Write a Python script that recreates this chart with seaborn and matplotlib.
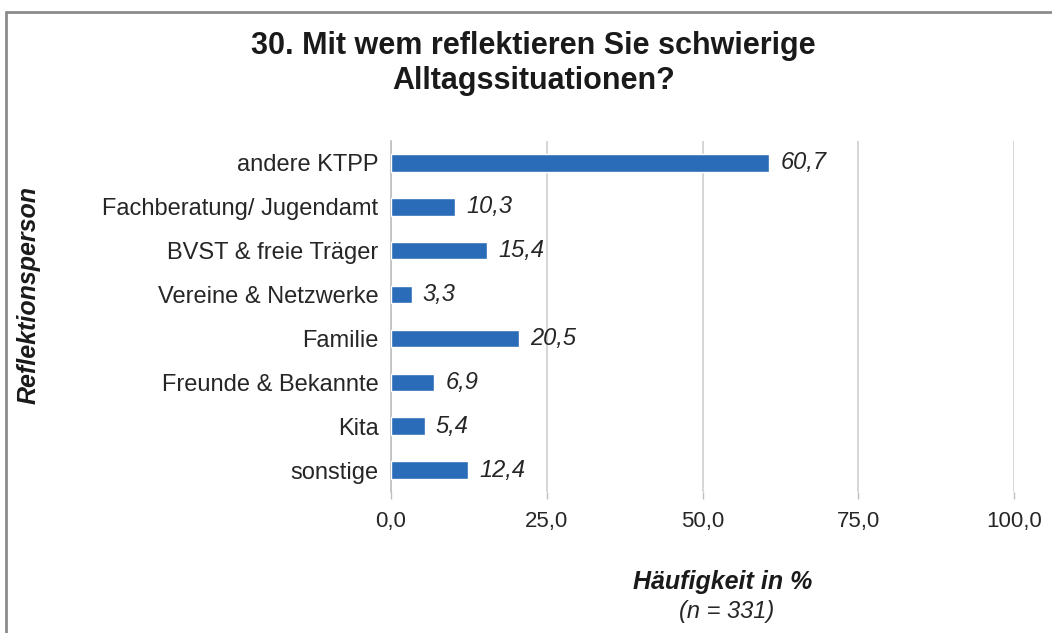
import matplotlib
matplotlib.use("Agg")
import matplotlib.pyplot as plt
import seaborn as sns
import pandas as pd
from matplotlib.lines import Line2D

categories = [
    "andere KTPP",
    "Fachberatung/ Jugendamt",
    "BVST & freie Träger",
    "Vereine & Netzwerke",
    "Familie",
    "Freunde & Bekannte",
    "Kita",
    "sonstige",
]
values = [60.7, 10.3, 15.4, 3.3, 20.5, 6.9, 5.4, 12.4]
x_ticks = [0, 25, 50, 75, 100]

df = pd.DataFrame({"Reflektionsperson": categories, "Anteil": values})

sns.set_theme(style="white")
plt.rcParams["font.family"] = ["Liberation Sans", "DejaVu Sans"]

fig = plt.figure(figsize=(10.52, 6.33), dpi=100)
ax = fig.add_axes([0.3717, 0.2227, 0.5922, 0.5546])

bar_color = "#2B6CB8"
sns.barplot(data=df, x="Anteil", y="Reflektionsperson", order=categories,
            color=bar_color, width=0.4, saturation=1, ax=ax, zorder=3)

ax.set_xlim(0, 100)
ax.set_ylim(len(categories) - 0.5, -0.5)
ax.set_xticks(x_ticks)
ax.set_xticklabels([f"{t:.1f}".replace(".", ",") for t in x_ticks],
                   fontsize=16, color="#262626")
ax.tick_params(axis="x", length=5, width=1, color="#bfbfbf", pad=9, direction="out",
               bottom=True)
ax.tick_params(axis="y", length=0, pad=9, labelsize=17, labelcolor="#262626")
ax.grid(axis="x", color="#d0d0d0", linewidth=1.2, zorder=0)
ax.grid(axis="y", visible=False)
for side in ["top", "right", "bottom"]:
    ax.spines[side].set_visible(False)
ax.spines["left"].set_color("#bfbfbf")
ax.spines["left"].set_linewidth(1.2)
ax.set_xlabel("")
ax.set_ylabel("")

for i, v in enumerate(values):
    ax.text(v + 1.8, i, f"{v:.1f}".replace(".", ","), va="center", ha="left",
            fontsize=17, style="italic", color="#262626")

fig.text(0.507, 0.900, "30. Mit wem reflektieren Sie schwierige\nAlltagssituationen?",
         ha="center", va="center", fontsize=22, fontweight="bold",
         color="#1a1a1a", linespacing=1.2)

fig.text(0.027, 0.534, "Reflektionsperson", rotation=90, ha="center", va="center",
         fontsize=18, fontweight="bold", style="italic", color="#1a1a1a")

fig.text(0.687, 0.080, "Häufigkeit in %", ha="center", va="center",
         fontsize=18, fontweight="bold", style="italic", color="#1a1a1a")
fig.text(0.691, 0.034, "(n = 331)", ha="center", va="center",
         fontsize=17, style="italic", color="#262626")

# outer frame (left and top edges)
fig.add_artist(Line2D([0.0057, 0.0057], [0, 0.981], transform=fig.transFigure,
                      color="#8c8c8c", linewidth=2))
fig.add_artist(Line2D([0.0057, 1.0], [0.981, 0.981], transform=fig.transFigure,
                      color="#8c8c8c", linewidth=2))

fig.savefig("out.png", dpi=100, facecolor="white")
